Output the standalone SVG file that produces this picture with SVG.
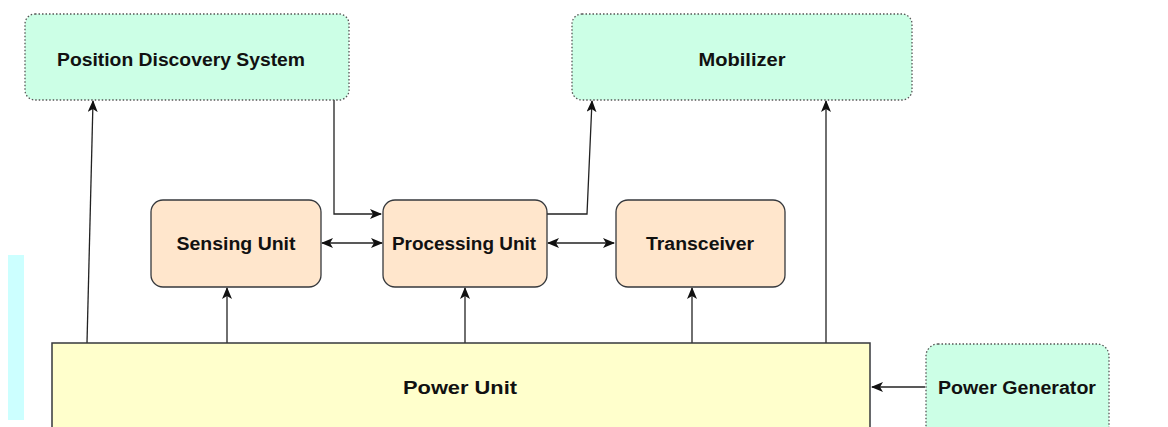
<svg xmlns="http://www.w3.org/2000/svg" width="1168" height="427" viewBox="0 0 1168 427">
<style>
  .green { fill: #ccffe6; stroke: #555; stroke-width: 1.3; stroke-dasharray: 1.5 2; }
  .peach { fill: #ffe6cc; stroke: #36393d; stroke-width: 1.3; }
  .yellow { fill: #ffffcc; stroke: #36393d; stroke-width: 1.5; }
  .lbl { font-family: "Liberation Sans", "DejaVu Sans", sans-serif; font-weight: bold; font-size: 18px; fill: #111; text-anchor: middle; dominant-baseline: central; }
  .edge { fill: none; stroke: #222; stroke-width: 1.3; }
</style>
<defs>
  <marker id="ah" viewBox="0 0 12 10" refX="11" refY="5" markerWidth="12" markerHeight="10" markerUnits="userSpaceOnUse" orient="auto-start-reverse">
    <path d="M0,0 L12,5 L0,10 L3,5 Z" fill="#111"/>
  </marker>
</defs>
<rect width="1168" height="427" fill="#ffffff"/>
<rect x="8" y="255" width="16" height="165" fill="#ccffff"/>

<g id="connectors">
  <path class="edge" d="M87,343 L93,101" marker-end="url(#ah)"/>
  <path class="edge" d="M334,100 L334,214 L381,214" marker-end="url(#ah)"/>
  <path class="edge" d="M547,214 L587,214 L592,101" marker-end="url(#ah)"/>
  <path class="edge" d="M322,243 L382,243" marker-start="url(#ah)" marker-end="url(#ah)"/>
  <path class="edge" d="M548,243 L614,243" marker-start="url(#ah)" marker-end="url(#ah)"/>
  <path class="edge" d="M227,343 L227,288" marker-end="url(#ah)"/>
  <path class="edge" d="M465,343 L465,288" marker-end="url(#ah)"/>
  <path class="edge" d="M692,343 L692,288" marker-end="url(#ah)"/>
  <path class="edge" d="M826,343 L826,101" marker-end="url(#ah)"/>
  <path class="edge" d="M925,387 L872,387" marker-end="url(#ah)"/>
</g>

<g id="pds">
  <rect class="green" x="25" y="14" width="324" height="86" rx="10"/>
  <text class="lbl" x="181" y="60" textLength="248" lengthAdjust="spacingAndGlyphs">Position Discovery System</text>
</g>
<g id="mobilizer">
  <rect class="green" x="572" y="14" width="340" height="86" rx="10"/>
  <text class="lbl" x="742" y="60" textLength="87" lengthAdjust="spacingAndGlyphs">Mobilizer</text>
</g>
<g id="sensing">
  <rect class="peach" x="151" y="200" width="170" height="87" rx="12"/>
  <text class="lbl" x="236" y="244" textLength="119" lengthAdjust="spacingAndGlyphs">Sensing Unit</text>
</g>
<g id="processing">
  <rect class="peach" x="383" y="200" width="164" height="87" rx="12"/>
  <text class="lbl" x="464" y="244" textLength="144" lengthAdjust="spacingAndGlyphs">Processing Unit</text>
</g>
<g id="transceiver">
  <rect class="peach" x="616" y="200" width="169" height="87" rx="12"/>
  <text class="lbl" x="700" y="244" textLength="108" lengthAdjust="spacingAndGlyphs">Transceiver</text>
</g>
<g id="power-unit">
  <rect class="yellow" x="52" y="343" width="818" height="110"/>
  <text class="lbl" x="460" y="388" textLength="114" lengthAdjust="spacingAndGlyphs">Power Unit</text>
</g>
<g id="power-generator">
  <rect class="green" x="926" y="344" width="183" height="110" rx="12"/>
  <text class="lbl" x="1017" y="388" textLength="158" lengthAdjust="spacingAndGlyphs">Power Generator</text>
</g>
</svg>
